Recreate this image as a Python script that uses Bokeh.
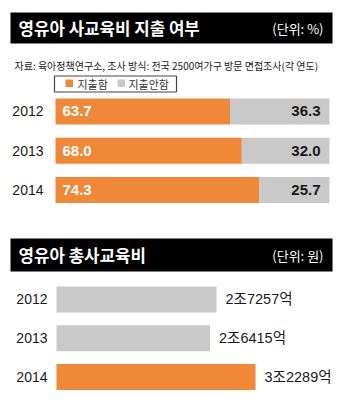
from bokeh.plotting import figure
from bokeh.layouts import column
from bokeh.models import Range1d, ColumnDataSource
from bokeh.core.properties import value
from bokeh.embed import file_html
from bokeh.resources import INLINE

# ---- data ----
years = ["2012", "2013", "2014"]
spend_yes = [63.7, 68.0, 74.3]      # 지출함 (%)
spend_no = [36.3, 32.0, 25.7]       # 지출안함 (%)
total_cost = [27257, 26415, 32289]  # 총사교육비 (억 원)

title1 = "영유아 사교육비 지출 여부"
unit1 = "(단위: %)"
source_note = "자료: 육아정책연구소, 조사 방식: 전국 2500여가구 방문 면접조사(각 연도)"
legend_labels = ["지출함", "지출안함"]
title2 = "영유아 총사교육비"
unit2 = "(단위: 원)"

ORANGE = "#F0883A"
GREY = "#C9C9C9"
DARK = "#1a1a1a"
KR = "Noto Sans CJK KR"
NUM = "Liberation Sans, Noto Sans CJK KR"
W = 350


def blank(h, xr, yr):
    p = figure(width=W, height=h, x_range=xr, y_range=yr,
               output_backend="svg", toolbar_location=None, min_border=0)
    p.outline_line_color = None
    p.grid.visible = False
    p.axis.visible = False
    p.background_fill_color = "white"
    p.border_fill_color = "white"
    return p


def header(p, top, bottom, title, unit):
    p.quad(left=[10], right=[332], top=[top], bottom=[bottom],
           fill_color="black", line_color=None)
    mid = (top + bottom) / 2
    p.text(x=[18], y=[mid], text=[title], text_font=value(KR),
           text_font_style="bold", text_font_size="16.8px",
           text_color="white", text_baseline="middle")
    p.text(x=[323], y=[mid], text=[unit], text_font=value(KR),
           text_font_size="13px", text_color="white",
           text_baseline="middle", text_align="right")


def year_labels(p, src, x0, off):
    p.text(x=x0, y="y", text="year", source=src, x_offset=off,
           text_font=value(NUM), text_font_size="14px", text_color=DARK,
           text_baseline="middle", text_align="right")


# ---- top header + note + legend ----
top = blank(96, Range1d(0, W), Range1d(96, 0))
header(top, 12, 43, title1, unit1)
top.text(x=[14], y=[65], text=[source_note], text_font=value(KR),
         text_font_size="10px", text_color="#1a1a1a", text_baseline="middle")
top.quad(left=[54], right=[176], top=[75.5], bottom=[91.5],
         fill_color="white", line_color="#444444", line_width=1.2)
top.quad(left=[65, 117], right=[72.5, 124.5], top=[79, 79], bottom=[86.5, 86.5],
         fill_color=[ORANGE, GREY], line_color=None)
top.text(x=[77, 128], y=[83.5, 83.5], text=legend_labels, text_font=value(KR),
         text_font_size="11px", text_color="#333333", text_baseline="middle")

# ---- bars 1 (0% at x=55px, 100% at x=329px) ----
idx = list(range(len(years)))
src1 = ColumnDataSource(dict(y=idx, year=years, yes=spend_yes, no=spend_no,
                             tot=[a + b for a, b in zip(spend_yes, spend_no)],
                             yes_t=[f"{v:.1f}" for v in spend_yes],
                             no_t=[f"{v:.1f}" for v in spend_no]))
s1 = 274 / 100.0
x1 = Range1d(-55 / s1, (W - 55) / s1)
b1 = blank(114, x1, Range1d(2.522, -0.382))
b1.hbar(y="y", left=0, right="yes", height=0.66, source=src1,
        fill_color=ORANGE, line_color=None)
b1.hbar(y="y", left="yes", right="tot", height=0.66, source=src1,
        fill_color=GREY, line_color=None)
b1.text(x=0, y="y", text="yes_t", source=src1, x_offset=7,
        text_font=value(NUM), text_font_style="bold", text_font_size="15px",
        text_color="white", text_baseline="middle")
b1.text(x="tot", y="y", text="no_t", source=src1, x_offset=-9,
        text_font=value(NUM), text_font_style="bold", text_font_size="15px",
        text_color=DARK, text_baseline="middle", text_align="right")
year_labels(b1, src1, x1.start, 43)

# ---- header 2 ----
h2 = blank(70, Range1d(0, W), Range1d(70, 0))
header(h2, 28, 61, title2, unit2)

# ---- bars 2 (value axis starts at AX2_MIN at x=56px) ----
AX2_MIN = 6612
s2 = 1 / 129.0
src2 = ColumnDataSource(dict(y=idx, year=years, v=total_cost,
                             lab=[f"{v // 10000}조{v % 10000}억" for v in total_cost],
                             col=[GREY, GREY, ORANGE]))
x2 = Range1d(AX2_MIN - 56 / s2, AX2_MIN + (W - 56) / s2)
b2 = blank(132, x2, Range1d(2.916, -0.49))
b2.hbar(y="y", left=AX2_MIN, right="v", height=0.67, source=src2,
        fill_color="col", line_color=None)
b2.text(x="v", y="y", text="lab", source=src2, x_offset=9,
        text_font=value(NUM), text_font_size="14.5px",
        text_color=DARK, text_baseline="middle")
year_labels(b2, src2, x2.start, 47)

layout = column(top, b1, h2, b2, spacing=0)
open("out.html", "w").write(file_html(layout, INLINE))
